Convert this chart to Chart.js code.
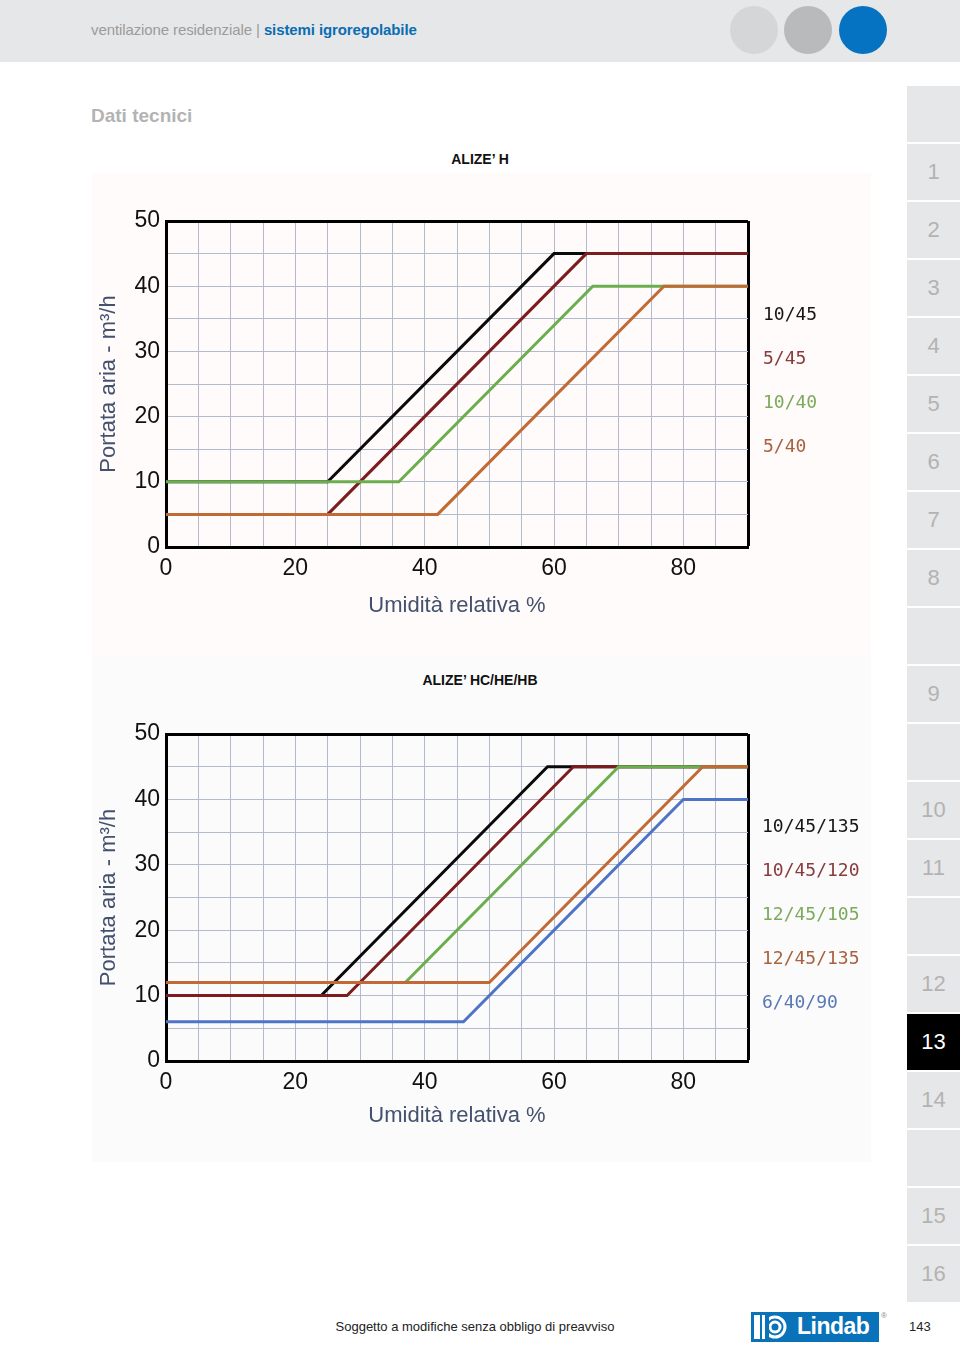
<!DOCTYPE html>
<html>
<head>
<meta charset="utf-8">
<script src="https://cdn.jsdelivr.net/npm/chart.js@4.4.1/dist/chart.umd.min.js"></script>
<style>
  body { margin:0; background:#fff; font-family:"Liberation Sans", Arial, sans-serif; }
  #page { position:relative; width:960px; height:1345px; overflow:hidden; }
  .abs { position:absolute; }
  #head { left:0; top:0; width:960px; height:62px; background:#e6e7e8; }
  #headtxt { left:91px; top:21px; font-size:15px; color:#9b9b9b; letter-spacing:-0.1px; }
  #headtxt b { color:#0a6db3; }
  .dot { width:48px; height:48px; border-radius:50%; top:6px; }
  #titre { left:91px; top:105px; font-size:19px; font-weight:bold; color:#b3b3b3; }
  .ctitle { width:960px; left:0; text-align:center; font-size:14px; font-weight:bold; color:#111; }
  .bg { left:92px; width:779px; }
  .tab { left:907px; width:53px; height:56px; background:#e6e7e8; color:#b3b3b3; font-size:22px; text-align:center; line-height:56px; }
  .lg { font-family:"DejaVu Sans Mono", monospace; font-size:18px; line-height:22px; }
  #foot { left:0; width:950px; top:1319px; text-align:center; font-size:13px; color:#222; }
  #page143 { left:909px; top:1319px; font-size:13px; color:#222; }
</style>
</head>
<body>
<div id="page">
  <div id="head" class="abs"></div>
  <div id="headtxt" class="abs">ventilazione residenziale | <b>sistemi igroregolabile</b></div>
  <div class="abs dot" style="left:730px;background:#d5d6d8"></div>
  <div class="abs dot" style="left:784px;background:#b9babc"></div>
  <div class="abs dot" style="left:839px;background:#0573c1"></div>
  <div id="titre" class="abs">Dati tecnici</div>

  <div class="abs bg" style="top:173px;height:482px;background:#fefbfa"></div>
  <div class="abs bg" style="top:655px;height:507px;background:#fbfbfb"></div>

  <div class="abs ctitle" style="top:151px">ALIZE’ H</div>
  <div class="abs ctitle" style="top:672px">ALIZE’ HC/HE/HB</div>

  <canvas id="c1" class="abs" width="778" height="440" style="left:92px;top:195px"></canvas>
  <canvas id="c2" class="abs" width="778" height="441" style="left:92px;top:708px"></canvas>

  <div id="tabs"></div>

  <div id="foot" class="abs">Soggetto a modifiche senza obbligo di preavviso</div>
  <div class="abs" style="left:751px;top:1312px;width:128px;height:30px;background:#0a72b8">
    <svg width="44" height="30" style="position:absolute;left:0;top:0">
      <rect x="3" y="3" width="6" height="24" fill="#fff"/>
      <circle cx="24" cy="15" r="10" fill="none" stroke="#fff" stroke-width="3"/>
      <circle cx="24" cy="15" r="5" fill="none" stroke="#fff" stroke-width="3"/>
      <rect x="11" y="3" width="7" height="24" fill="#0a72b8"/>
      <rect x="11" y="3" width="3" height="24" fill="#fff"/>
    </svg>
    <div style="position:absolute;left:46px;top:1px;color:#fff;font-weight:bold;font-size:23px;letter-spacing:-0.5px">Lindab</div>
  </div>
  <div class="abs" style="left:881px;top:1311px;font-size:8px;color:#888">®</div>
  <div id="page143" class="abs">143</div>
  <div id="legends"></div>
</div>

<script>
// axis ticks
var xTickLabels = [0, 20, 40, 60, 80]
var yTickLabels = [0, 10, 20, 30, 40, 50]

// ALIZE' H
var hLabels = ['10/45', '5/45', '10/40', '5/40']
var hHumidity = [[0, 25, 60, 90], [0, 25, 65, 90], [0, 36, 66, 90], [0, 42, 77, 90]]
var hFlow = [[10, 10, 45, 45], [5, 5, 45, 45], [10, 10, 40, 40], [5, 5, 40, 40]]

// ALIZE' HC/HE/HB
var hcLabels = ['10/45/135', '10/45/120', '12/45/105', '12/45/135', '6/40/90']
var hcHumidity = [[0, 24, 59, 90], [0, 28, 63, 90], [0, 37, 70, 90], [0, 50, 83, 90], [0, 46, 80, 90]]
var hcFlow = [[10, 10, 45, 45], [10, 10, 45, 45], [12, 12, 45, 45], [12, 12, 45, 45], [6, 6, 40, 40]]

var lineColors = ['#0a0a0a', '#7b1c1f', '#6cae4e', '#c26a35', '#4f74c7']
var textColors = ['#161616', '#8a3b3b', '#7caa5c', '#a9623f', '#5a78b8']

var tabLabels = ['', '1', '2', '3', '4', '5', '6', '7', '8', '', '9', '', '10', '11', '', '12', '13', '14', '', '15', '16']

// side tabs
var tabs = document.getElementById('tabs')
tabLabels.forEach(function(t, i){
  var d = document.createElement('div')
  d.className = 'abs tab'
  d.style.top = (86 + 58 * i) + 'px'
  d.textContent = t
  if (t === '13') { d.style.background = '#000'; d.style.color = '#fff' }
  tabs.appendChild(d)
})

// colored labels on the right of each chart
function legend(labels, left, top){
  var box = document.getElementById('legends')
  labels.forEach(function(l, i){
    var d = document.createElement('div')
    d.className = 'abs lg'
    d.style.left = left + 'px'
    d.style.top = (top + 44 * i) + 'px'
    d.style.color = textColors[i]
    d.textContent = l
    box.appendChild(d)
  })
}
legend(hLabels, 763, 303)
legend(hcLabels, 762, 815)

function makeChart(id, labels, xs, ys, titlePad){
  var n = labels.length
  var datasets = labels.map(function(l, i){
    return {
      label: l,
      data: xs[i].map(function(x, k){ return {x: x, y: ys[i][k]} }),
      borderColor: lineColors[i],
      borderWidth: 3,
      pointRadius: 0,
      tension: 0,
      borderJoinStyle: 'miter',
      fill: false,
      // first label lies underneath, last one on top
      order: n - 1 - i
    }
  })
  var tickFont = {family: '"Liberation Sans", Arial, sans-serif', size: 23}
  var titleFont = {family: '"Liberation Sans", Arial, sans-serif', size: 22}
  function gridW(max){ return function(c){ return c.tick && c.tick.value === max ? 3 : 1 } }
  function gridC(max){ return function(c){ return c.tick && c.tick.value === max ? '#000' : '#b3bacb' } }

  return new Chart(document.getElementById(id).getContext('2d'), {
    type: 'line',
    data: {datasets: datasets},
    options: {
      responsive: false,
      animation: false,
      layout: {padding: {top: 26, right: 122, left: 0, bottom: 0}},
      plugins: {legend: {display: false}, tooltip: {enabled: false}},
      scales: {
        x: {
          type: 'linear', min: 0, max: 90,
          afterFit: function(s){ s.height = 88 },
          ticks: {
            stepSize: 5, padding: 8, color: '#111', font: tickFont, maxRotation: 0, autoSkip: false,
            callback: function(v){ return xTickLabels.indexOf(v) >= 0 ? String(v) : '' }
          },
          grid: {drawTicks: false, lineWidth: gridW(90), color: gridC(90)},
          border: {display: true, color: '#000', width: 3},
          title: {display: true, text: 'Umidità relativa %', color: '#44516e', font: titleFont, padding: {top: 0, bottom: titlePad}}
        },
        y: {
          min: 0, max: 50,
          afterFit: function(s){ s.width = 74 },
          ticks: {
            stepSize: 5, padding: 6, color: '#111', font: tickFont, autoSkip: false,
            callback: function(v){ return yTickLabels.indexOf(v) >= 0 ? String(v) : '' }
          },
          grid: {drawTicks: false, lineWidth: gridW(50), color: gridC(50)},
          border: {display: true, color: '#000', width: 3},
          title: {display: true, text: 'Portata aria - m³/h', color: '#44516e', font: titleFont, padding: {top: 4, bottom: 0}}
        }
      }
    }
  })
}

makeChart('c1', hLabels, hHumidity, hFlow, 16)
makeChart('c2', hcLabels, hcHumidity, hcFlow, 20)
</script>
</body>
</html>
